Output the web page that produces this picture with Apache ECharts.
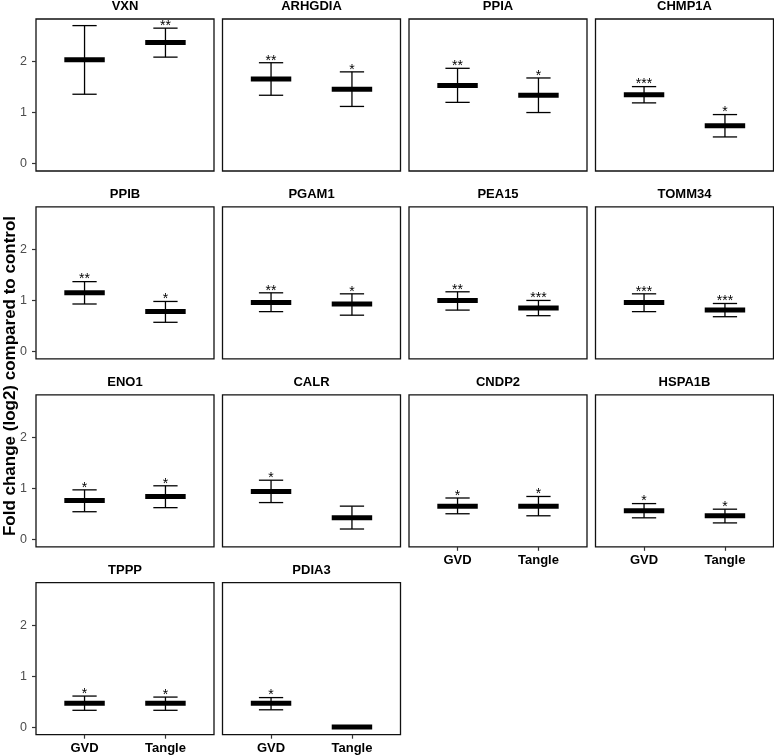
<!DOCTYPE html>
<html>
<head>
<meta charset="utf-8">
<script src="https://cdn.jsdelivr.net/npm/echarts@6/dist/echarts.min.js"></script>
<style>
  html, body { margin: 0; padding: 0; background: #fff; }
  #chart { width: 774px; height: 756px; }
</style>
</head>
<body>
<div id="chart"></div>
<script>
// values (log2 fold change vs control)
const genes = ['VXN', 'ARHGDIA', 'PPIA', 'CHMP1A', 'PPIB', 'PGAM1', 'PEA15', 'TOMM34',
               'ENO1', 'CALR', 'CNDP2', 'HSPA1B', 'TPPP', 'PDIA3'];
const groups = ['GVD', 'Tangle'];
const gvdMean   = [2.04, 1.66, 1.53, 1.35, 1.15, 0.96, 1.00, 0.96, 0.76, 0.94, 0.65, 0.56, 0.47, 0.47];
const gvdLow    = [1.36, 1.34, 1.20, 1.19, 0.93, 0.78, 0.81, 0.78, 0.54, 0.72, 0.50, 0.42, 0.33, 0.34];
const gvdHigh   = [2.71, 1.98, 1.87, 1.51, 1.37, 1.15, 1.17, 1.13, 0.97, 1.16, 0.81, 0.70, 0.61, 0.58];
const tangleMean = [2.38, 1.46, 1.34, 0.74, 0.78, 0.93, 0.85, 0.81, 0.84, 0.42, 0.65, 0.46, 0.47, 0.00];
const tangleLow  = [2.09, 1.12, 1.00, 0.52, 0.57, 0.71, 0.70, 0.68, 0.62, 0.20, 0.46, 0.32, 0.33, 0.00];
const tangleHigh = [2.66, 1.80, 1.68, 0.96, 0.98, 1.13, 1.00, 0.94, 1.05, 0.65, 0.84, 0.59, 0.59, 0.00];
const gvdSig    = ['', '**', '**', '***', '**', '**', '**', '***', '*', '*', '*', '*', '*', '*'];
const tangleSig = ['**', '*', '*', '*', '*', '*', '***', '***', '*', '', '*', '*', '*', ''];
const yTicks = [0, 1, 2];

const FONT = "'Liberation Sans', Arial, Helvetica, sans-serif";
const colLeft = [36, 222.5, 409, 595.5];
const panelW = 178, panelH = 152;
const rowTop0 = 19, rowStep = 187.9;

const chart = echarts.init(document.getElementById('chart'));

const option = {
  animation: false,
  backgroundColor: '#fff',
  grid: [], xAxis: [], yAxis: [], series: [],
  graphic: [{
    type: 'text',
    x: 10, y: 376,
    rotation: Math.PI / 2,
    style: {
      text: 'Fold change (log2) compared to control',
      font: 'bold 17px ' + FONT,
      fill: '#000',
      align: 'center',
      verticalAlign: 'middle'
    }
  }]
};

genes.forEach((gene, i) => {
  const r = Math.floor(i / 4), c = i % 4;
  const left = colLeft[c], top = rowTop0 + r * rowStep;
  const showX = i + 4 >= genes.length;
  const showY = c === 0;

  option.grid.push({
    left: left, top: top, width: panelW, height: panelH,
    show: true, borderColor: '#111', borderWidth: 1.3, backgroundColor: 'transparent'
  });

  option.xAxis.push({
    gridIndex: i, type: 'value', min: 0.4, max: 2.6,
    axisLine: { show: false, onZero: false },
    splitLine: { show: false },
    axisTick: { show: showX, customValues: [1, 2], length: 4, lineStyle: { color: '#333', width: 1.2 } },
    axisLabel: {
      show: showX, customValues: [1, 2], margin: 7,
      formatter: v => groups[Math.round(v) - 1],
      color: '#000', fontWeight: 'bold', fontSize: 13, fontFamily: FONT
    }
  });

  option.yAxis.push({
    gridIndex: i, type: 'value', min: -0.15, max: 2.84,
    axisLine: { show: false, onZero: false },
    splitLine: { show: false },
    axisTick: { show: showY, customValues: yTicks, length: 4, lineStyle: { color: '#333', width: 1.2 } },
    axisLabel: {
      show: showY, customValues: yTicks, margin: 9,
      color: '#4d4d4d', fontSize: 12.5, fontFamily: FONT
    }
  });

  option.graphic.push({
    type: 'text',
    x: left + panelW / 2, y: top - 12.5,
    style: {
      text: gene, font: 'bold 13px ' + FONT, fill: '#000',
      align: 'center', verticalAlign: 'middle'
    }
  });

  const sig = [gvdSig[i], tangleSig[i]];
  option.series.push({
    type: 'custom',
    xAxisIndex: i, yAxisIndex: i,
    data: [
      [1, gvdMean[i], gvdLow[i], gvdHigh[i]],
      [2, tangleMean[i], tangleLow[i], tangleHigh[i]]
    ],
    renderItem: (params, api) => {
      const x = api.value(0), m = api.value(1), lo = api.value(2), hi = api.value(3);
      const pm = api.coord([x, m]), plo = api.coord([x, lo]), phi = api.coord([x, hi]);
      const bw = api.size([0.5, 0])[0], cw = api.size([0.3, 0])[0];
      const ls = { stroke: '#000', lineWidth: 1.3 };
      const kids = [];
      if (hi > lo) {
        kids.push({ type: 'line', shape: { x1: pm[0], y1: plo[1], x2: pm[0], y2: phi[1] }, style: ls });
        kids.push({ type: 'line', shape: { x1: pm[0] - cw / 2, y1: plo[1], x2: pm[0] + cw / 2, y2: plo[1] }, style: ls });
        kids.push({ type: 'line', shape: { x1: pm[0] - cw / 2, y1: phi[1], x2: pm[0] + cw / 2, y2: phi[1] }, style: ls });
      }
      kids.push({ type: 'rect', shape: { x: pm[0] - bw / 2, y: pm[1] - 2.5, width: bw, height: 5 }, style: { fill: '#000' } });
      const s = sig[params.dataIndex];
      if (s) {
        kids.push({
          type: 'text', x: pm[0], y: phi[1] + 5,
          style: { text: s, font: '14px ' + FONT, fill: '#000', align: 'center', verticalAlign: 'bottom' }
        });
      }
      return { type: 'group', children: kids };
    }
  });
});

chart.setOption(option);
</script>
</body>
</html>
